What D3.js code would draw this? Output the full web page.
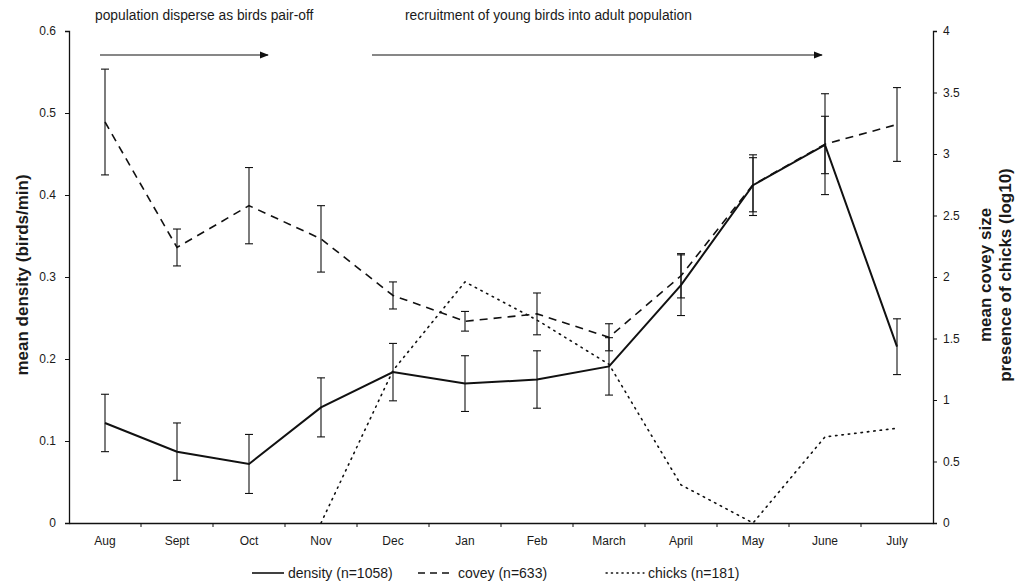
<!DOCTYPE html>
<html>
<head>
<meta charset="utf-8">
<script src="https://cdn.jsdelivr.net/npm/d3@7"></script>
<style>
  html, body { margin: 0; padding: 0; background: #fff; }
  svg { display: block; font-family: "Liberation Sans", Arial, sans-serif; }
</style>
</head>
<body>
<svg id="chart" width="1022" height="585"></svg>
<script>
// Months of the survey year
const months = ["Aug", "Sept", "Oct", "Nov", "Dec", "Jan", "Feb", "March", "April", "May", "June", "July"];

// Mean density (birds/min) with standard errors (left axis)
const densityMean = [0.122, 0.087, 0.072, 0.141, 0.184, 0.170, 0.175, 0.191, 0.290, 0.412, 0.461, 0.215];
const densityErr  = [0.035, 0.035, 0.036, 0.036, 0.035, 0.034, 0.035, 0.035, 0.037, 0.037, 0.035, 0.034];

// Mean covey size with standard errors (right axis)
const coveyMean = [3.26, 2.24, 2.58, 2.31, 1.85, 1.64, 1.70, 1.51, 2.01, 2.75, 3.08, 3.24];
const coveyErr  = [0.43, 0.15, 0.31, 0.27, 0.11, 0.08, 0.17, 0.11, 0.18, 0.22, 0.41, 0.30];

// Presence of chicks (log10), right axis; recorded from November on
const chicksMonths = ["Nov", "Dec", "Jan", "Feb", "March", "April", "May", "June", "July"];
const chicksValue  = [0.0, 1.24, 1.96, 1.65, 1.29, 0.31, 0.0, 0.70, 0.77];

// Axis ticks
const leftTicks  = [0, 0.1, 0.2, 0.3, 0.4, 0.5, 0.6];
const rightTicks = [0, 0.5, 1, 1.5, 2, 2.5, 3, 3.5, 4];

// Legend entries
const legendLabels = ["density (n=1058)", "covey (n=633)", "chicks (n=181)"];

// Period annotations above the plot
const periodLabels = ["population disperse as birds pair-off", "recruitment of young birds into adult population"];

const svg = d3.select("#chart");
const plot = { left: 69, right: 933, top: 31, bottom: 523 };
const ink = "#111";
const textInk = "#1a1a1a";

const x = d3.scaleBand().domain(months).range([plot.left, plot.right]);
const cx = m => x(m) + x.bandwidth() / 2;
const yL = d3.scaleLinear().domain([0, 0.6]).range([plot.bottom, plot.top]);
const yR = d3.scaleLinear().domain([0, 4]).range([plot.bottom, plot.top]);

// Axes
const leftAxis = d3.axisLeft(yL).tickValues(leftTicks)
  .tickFormat(d => d === 0 ? "0" : d3.format(".1f")(d)).tickSize(4).tickPadding(9);
const gL = svg.append("g").attr("transform", `translate(${plot.left},0)`).call(leftAxis);

const rightAxis = d3.axisRight(yR).tickValues(rightTicks)
  .tickFormat(d3.format("~g")).tickSize(4).tickPadding(6);
const gR = svg.append("g").attr("transform", `translate(${plot.right},0)`).call(rightAxis);

const bottomAxis = d3.axisBottom(x).tickSize(0).tickPadding(13);
const gB = svg.append("g").attr("transform", `translate(0,${plot.bottom})`).call(bottomAxis);

[gL, gR, gB].forEach(g => {
  g.selectAll("text").attr("font-size", 12).attr("fill", textInk)
    .attr("font-family", "'Liberation Sans', Arial, sans-serif");
  g.selectAll("line, path").attr("stroke", ink);
  g.select(".domain").attr("stroke-width", 1.3);
});

// Category boundary ticks on the bottom axis
const boundaries = months.slice(1).map(m => x(m));
gB.selectAll(".bound").data(boundaries).join("line")
  .attr("class", "bound")
  .attr("x1", d => d).attr("x2", d => d)
  .attr("y1", 0).attr("y2", 4)
  .attr("stroke", ink);

// Axis titles
const titleY = 275;
function vTitle(xPos, label) {
  svg.append("text")
    .attr("transform", `translate(${xPos},${titleY}) rotate(-90)`)
    .attr("text-anchor", "middle").attr("font-size", 17).attr("font-weight", "bold").attr("fill", textInk)
    .text(label);
}
vTitle(28, "mean density (birds/min)");
vTitle(991, "mean covey size");
vTitle(1011, "presence of chicks (log10)");

// Error bars
function errorBars(cls, means, errs, y) {
  const g = svg.append("g").attr("class", cls).attr("stroke", ink).attr("stroke-width", 1.1);
  const data = months.map((m, i) => ({ m, lo: means[i] - errs[i], hi: means[i] + errs[i] }));
  g.selectAll(".v").data(data).join("line").attr("class", "v")
    .attr("x1", d => cx(d.m)).attr("x2", d => cx(d.m))
    .attr("y1", d => y(d.lo)).attr("y2", d => y(d.hi));
  g.selectAll(".t").data(data).join("line").attr("class", "t")
    .attr("x1", d => cx(d.m) - 4).attr("x2", d => cx(d.m) + 4)
    .attr("y1", d => y(d.hi)).attr("y2", d => y(d.hi));
  g.selectAll(".b").data(data).join("line").attr("class", "b")
    .attr("x1", d => cx(d.m) - 4).attr("x2", d => cx(d.m) + 4)
    .attr("y1", d => y(d.lo)).attr("y2", d => y(d.lo));
}
errorBars("covey-err", coveyMean, coveyErr, yR);
errorBars("density-err", densityMean, densityErr, yL);

// Series lines
const chickLine = d3.line().x(d => cx(d.m)).y(d => yR(d.v));
svg.append("path")
  .datum(chicksMonths.map((m, i) => ({ m, v: chicksValue[i] })))
  .attr("d", chickLine)
  .attr("fill", "none").attr("stroke", ink).attr("stroke-width", 1.6)
  .attr("stroke-dasharray", "1.4,5").attr("stroke-linecap", "round");

const coveyLine = d3.line().x((d, i) => cx(months[i])).y(d => yR(d));
svg.append("path").datum(coveyMean).attr("d", coveyLine)
  .attr("fill", "none").attr("stroke", ink).attr("stroke-width", 1.6)
  .attr("stroke-dasharray", "8,6");

const densityLine = d3.line().x((d, i) => cx(months[i])).y(d => yL(d));
svg.append("path").datum(densityMean).attr("d", densityLine)
  .attr("fill", "none").attr("stroke", ink).attr("stroke-width", 2);

// Period annotations with arrows
const defs = svg.append("defs");
defs.append("marker").attr("id", "arrowhead")
  .attr("viewBox", "0 0 10 10").attr("refX", 9).attr("refY", 5)
  .attr("markerWidth", 9).attr("markerHeight", 9).attr("markerUnits", "userSpaceOnUse")
  .attr("orient", "auto")
  .append("path").attr("d", "M0,1 L10,5 L0,9 Z").attr("fill", ink);

const arrowY = 55;
const arrowStart = [cx("Aug") - 5, x("Dec") + 15];
const arrowEnd = [cx("Oct") + 19, cx("June") - 3];
periodLabels.forEach((label, i) => {
  svg.append("line")
    .attr("x1", arrowStart[i]).attr("x2", arrowEnd[i])
    .attr("y1", arrowY).attr("y2", arrowY)
    .attr("stroke", ink).attr("stroke-width", 1.2)
    .attr("marker-end", "url(#arrowhead)");
});
const periodX = [95, 405];
periodLabels.forEach((label, i) => {
  svg.append("text").attr("x", periodX[i]).attr("y", 20).attr("font-size", 13.8).attr("fill", textInk)
    .text(label);
});

// Legend
const legendY = 578;
const legendItems = [
  { x: 252, len: 32, dash: null, w: 1.6 },
  { x: 418, len: 36, dash: "7,5", w: 1.3 },
  { x: 606, len: 38, dash: "1.3,4", w: 1.3 }
];
legendItems.forEach((it, i) => {
  svg.append("line")
    .attr("x1", it.x).attr("x2", it.x + it.len)
    .attr("y1", legendY - 5).attr("y2", legendY - 5)
    .attr("stroke", ink).attr("stroke-width", it.w)
    .attr("stroke-dasharray", it.dash).attr("stroke-linecap", i === 2 ? "round" : "butt");
  svg.append("text").attr("x", it.x + it.len + 4).attr("y", legendY)
    .attr("font-size", 14).attr("fill", textInk).text(legendLabels[i]);
});
</script>
</body>
</html>
